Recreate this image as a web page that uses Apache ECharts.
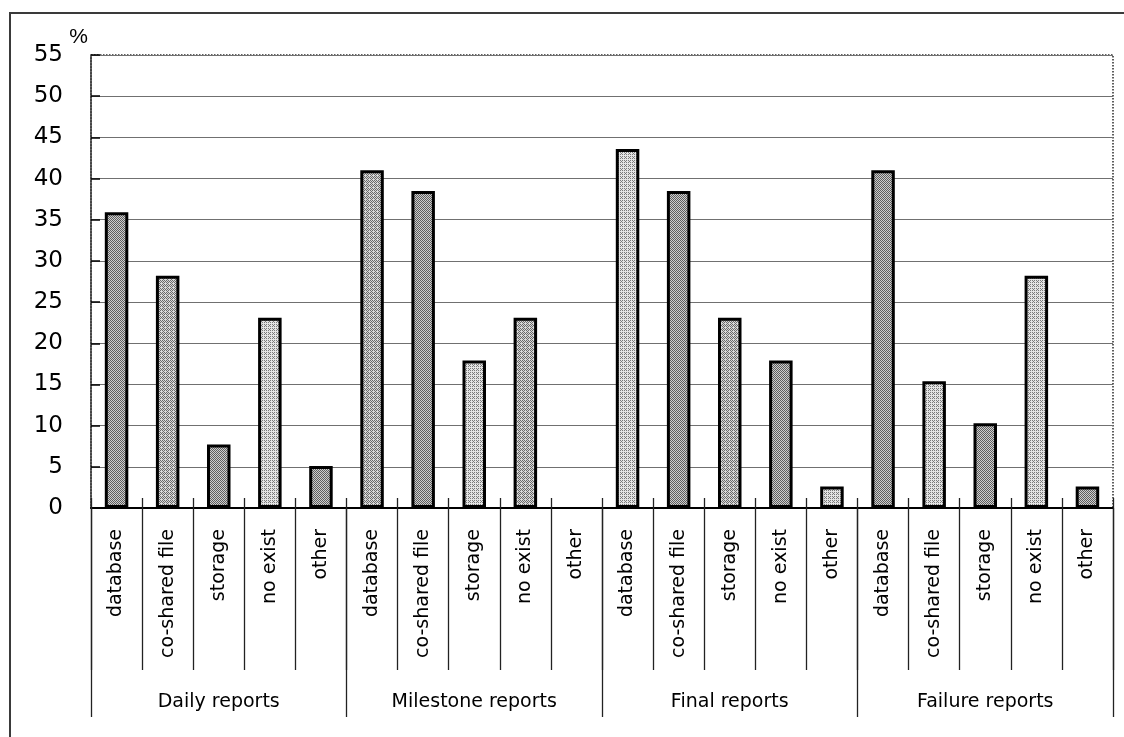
<!DOCTYPE html>
<html>
<head>
<meta charset="utf-8">
<script src="https://cdn.jsdelivr.net/npm/echarts@6/dist/echarts.min.js"></script>
<style>
  html, body { margin: 0; padding: 0; background: #fff; }
  #chart { width: 1124px; height: 737px; }
</style>
</head>
<body>
<div id="chart"></div>
<script>
// Report storage places, percent of respondents, per report type
const categories = ['database', 'co-shared file', 'storage', 'no exist', 'other'];
const groups = ['Daily reports', 'Milestone reports', 'Final reports', 'Failure reports'];
const daily = [35.9, 28.2, 7.7, 23.1, 5.1];
const milestone = [41.0, 38.5, 17.9, 23.1, 0];
const finalRep = [43.6, 38.5, 23.1, 17.9, 2.6];
const failure = [41.0, 15.4, 10.3, 28.2, 2.6];
const yTicks = [0, 5, 10, 15, 20, 25, 30, 35, 40, 45, 50, 55];

// halftone shade of each bar, in drawing order
const shades = [
  'dark', 'mid', 'dark', 'light', 'dark',
  'mid', 'dark', 'light', 'mid', 'dark',
  'light', 'dark', 'mid', 'dark', 'light',
  'dark', 'light', 'dark', 'light', 'dark'
];

// small dithered tiles that give the bars their printed-screen look
function makeTile(kind) {
  const c = document.createElement('canvas');
  c.width = 4; c.height = 4;
  const ctx = c.getContext('2d');
  const bayer = [[0, 8, 2, 10], [12, 4, 14, 6], [3, 11, 1, 9], [15, 7, 13, 5]];
  const level = { dark: 8, mid: 7, light: 5 }[kind];
  const ink = { dark: '#5e5e5e', mid: '#6a6a6a', light: '#7a7a7a' }[kind];
  const paper = { dark: '#cecece', mid: '#d8d8d8', light: '#e4e4e4' }[kind];
  for (let y = 0; y < 4; y++) {
    for (let x = 0; x < 4; x++) {
      ctx.fillStyle = bayer[y][x] < level ? ink : paper;
      ctx.fillRect(x, y, 1, 1);
    }
  }
  return { image: c, repeat: 'repeat' };
}
const tiles = { dark: makeTile('dark'), mid: makeTile('mid'), light: makeTile('light') };

const allCats = [];
const allVals = [];
[daily, milestone, finalRep, failure].forEach(function (vals) {
  categories.forEach(function (c, i) {
    allCats.push(c);
    allVals.push(vals[i]);
  });
});

// an empty answer gets no outline, so nothing shows on the axis
const barData = allVals.map(function (v, i) {
  return {
    value: v,
    itemStyle: { color: tiles[shades[i]], borderWidth: v === 0 ? 0 : 3 }
  };
});

const font = 'DejaVu Sans';
const chart = echarts.init(document.getElementById('chart'), null, { renderer: 'canvas' });

chart.setOption({
  animation: false,
  backgroundColor: '#fff',
  grid: {
    left: 91, right: 11, top: 55, bottom: 229,
    show: true,
    borderColor: '#2a2a2a',
    borderWidth: 1.5,
    borderType: 'dotted',
    backgroundColor: 'transparent'
  },
  xAxis: [
    {
      type: 'category',
      data: allCats,
      position: 'bottom',
      axisLine: { show: true, lineStyle: { color: '#000', width: 2 } },
      axisTick: { show: true, interval: 0, length: 162, lineStyle: { color: '#222', width: 1.3 } },
      axisLabel: {
        interval: 0, rotate: 90, margin: 21,
        fontFamily: font, fontSize: 19, color: '#000'
      },
      splitLine: { show: false }
    },
    {
      type: 'category',
      data: allCats,
      position: 'bottom',
      axisLine: { show: false },
      axisTick: { show: true, inside: true, interval: 0, length: 10, lineStyle: { color: '#222', width: 1.3 } },
      axisLabel: { show: false },
      splitLine: { show: false }
    },
    {
      type: 'category',
      data: groups,
      position: 'bottom',
      axisLine: { show: false },
      axisTick: { show: true, interval: 0, length: 209, lineStyle: { color: '#222', width: 1.3 } },
      axisLabel: {
        interval: 0, margin: 185,
        fontFamily: font, fontSize: 19, color: '#000'
      },
      splitLine: { show: false }
    }
  ],
  yAxis: {
    type: 'value',
    min: yTicks[0],
    max: yTicks[yTicks.length - 1],
    interval: 5,
    name: '%',
    nameLocation: 'end',
    nameGap: 7,
    nameTextStyle: {
      fontFamily: 'Liberation Sans', fontSize: 21, color: '#000',
      align: 'right', verticalAlign: 'bottom', padding: [0, 3, 0, 0]
    },
    axisLine: { show: true, lineStyle: { color: '#2a2a2a', width: 1.5, type: 'dotted' } },
    axisTick: { show: true, inside: true, length: 9, lineStyle: { color: '#000', width: 1.5 } },
    axisLabel: {
      margin: 28,
      fontFamily: font, fontSize: 23, color: '#000',
      formatter: function (v) { return String(v); }
    },
    splitLine: { show: true, lineStyle: { color: '#707070', width: 1 } }
  },
  series: [
    {
      type: 'bar',
      xAxisIndex: 0,
      data: barData,
      barWidth: '46%',
      itemStyle: { borderColor: '#000', borderWidth: 3 }
    }
  ],
  graphic: [
    {
      type: 'polyline',
      silent: true,
      shape: { points: [[10, 737], [10, 13], [1124, 13]] },
      style: { stroke: '#3a3a3a', lineWidth: 2, fill: null }
    }
  ]
});
</script>
</body>
</html>
